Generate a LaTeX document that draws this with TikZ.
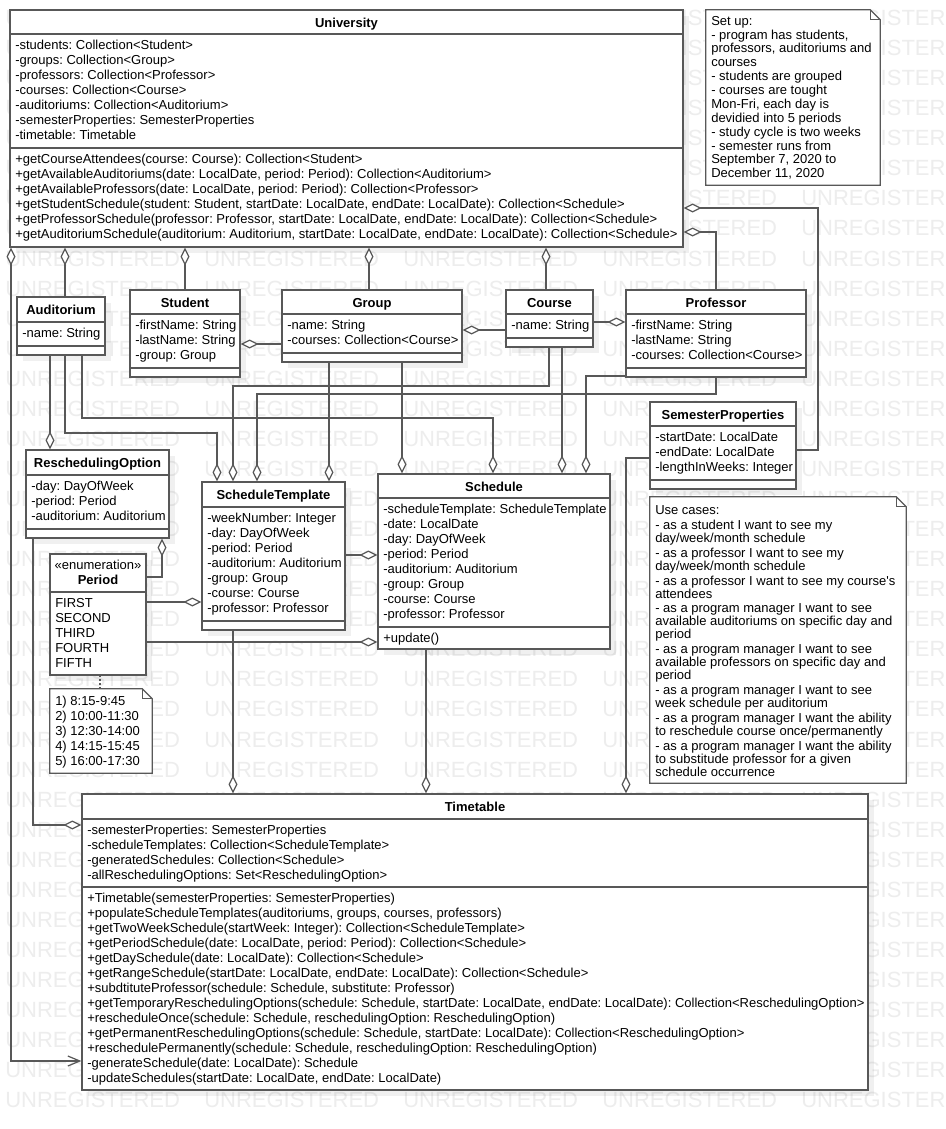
\documentclass[tikz,border=0pt]{standalone}
\usepackage{fontspec}
\setmainfont{Liberation Sans}
\usetikzlibrary{arrows.meta,fit,shadows}
\frenchspacing
\definecolor{linec}{RGB}{88,88,88}
\definecolor{wmc}{RGB}{237,237,237}
\newcommand{\fsz}{\fontsize{9.75pt}{11.25pt}\selectfont}
\tikzset{
  classbox/.style={draw=linec, line width=0.9pt, fill=white, inner sep=0pt,
    drop shadow={shadow xshift=4.5pt, shadow yshift=-4.5pt, fill=black, opacity=0.06}},
  sepline/.style={draw=linec, line width=0.9pt},
  txt/.style={anchor=base west, inner sep=0pt, font=\fsz, text=black},
  ttl/.style={anchor=base, inner sep=0pt, font=\fsz\bfseries, text=black},
  conn/.style={draw=linec, line width=0.9pt},
  agg/.style={conn, {Diamond[fill=white,length=13.5pt,width=6.75pt]}-},
  aggnav/.style={conn, {Diamond[fill=white,length=13.5pt,width=6.75pt]}-{Straight Barb[length=9pt,width=7.5pt]}},
  notebg/.style={draw=linec, line width=0.9pt, fill=white},
  wm/.style={anchor=west, inner sep=0pt, font=\fontsize{16.5pt}{18pt}\selectfont, text=wmc},
}
\newcommand{\umlclass}[6]{%
  \node[classbox, fit={(#2,#3) (#4,#5)}] (#1) {};
  \pgfmathsetmacro\tmpcx{(#2+#4)/2}%
  \pgfmathsetmacro\tmpty{#3+17.5}%
  \node[ttl] (#1-title) at (\tmpcx,\tmpty) {#6};
}
\newcommand{\csep}[3]{\draw[sepline] (#1,#3) -- (#2,#3);}
\newcommand{\crows}[4]{%
  \foreach \t [count=\i] in {#4} {%
    \pgfmathsetmacro\yy{#3+15*\i}%
    \node[txt] (#1-\i) at (#2,\yy) {\t};
  }%
}
\newcommand{\notebox}[5]{%
  \node[fit={(#2,#3) (#4,#5)}, inner sep=0pt] (#1) {};
  \draw[notebg] (#1.north west) -- ([xshift=-7.5pt]#1.north east) -- ([yshift=-7.5pt]#1.north east) -- (#1.south east) -- (#1.south west) -- cycle;
  \draw[sepline] ([xshift=-7.5pt]#1.north east) -- ([xshift=-7.5pt,yshift=-7.5pt]#1.north east) -- ([yshift=-7.5pt]#1.north east);
}
\newcommand{\ntext}[3]{%
  \foreach \yy/\t [count=\i] in {#3} {\node[txt] (#1-\i) at (#2,\yy) {\t};}%
}
\begin{document}
\begin{tikzpicture}[x=0.75pt,y=-0.75pt]
\useasboundingbox (0,0) rectangle (946,1129);
\fill[white] (0,0) rectangle (946,1129);
% watermark
\foreach \r in {0,...,36} {\foreach \c in {0,...,4} {%
  \pgfmathsetmacro\wy{18+30.06*\r}%
  \pgfmathsetmacro\wx{5+199*\c}%
  \node[wm] (wm-\r-\c) at (\wx,\wy) {UNREGISTERED};
}}

% ---------- University
\umlclass{University}{10}{10}{683}{247}{University}
\csep{10}{683}{34}\csep{10}{683}{148}
\crows{University-a}{15}{34}{{-students: Collection<Student>},{-groups: Collection<Group>},{-professors: Collection<Professor>},{-courses: Collection<Course>},{-auditoriums: Collection<Auditorium>},{-semesterProperties: SemesterProperties},{-timetable: Timetable}}
\crows{University-o}{15}{148}{{+getCourseAttendees(course: Course): Collection<Student>},{+getAvailableAuditoriums(date: LocalDate, period: Period): Collection<Auditorium>},{+getAvailableProfessors(date: LocalDate, period: Period): Collection<Professor>},{+getStudentSchedule(student: Student, startDate: LocalDate, endDate: LocalDate): Collection<Schedule>},{+getProfessorSchedule(professor: Professor, startDate: LocalDate, endDate: LocalDate): Collection<Schedule>},{+getAuditoriumSchedule(auditorium: Auditorium, startDate: LocalDate, endDate: LocalDate): Collection<Schedule>}}

% ---------- Auditorium
\umlclass{Auditorium}{17}{297}{105}{355}{Auditorium}
\csep{17}{105}{322}\csep{17}{105}{346}
\crows{Auditorium-a}{22}{322}{{-name: String}}

% ---------- Student
\umlclass{Student}{130}{290}{240}{377}{Student}
\csep{130}{240}{314}\csep{130}{240}{368}
\crows{Student-a}{135}{314}{{-firstName: String},{-lastName: String},{-group: Group}}

% ---------- Group
\umlclass{Group}{282}{290}{462}{362}{Group}
\csep{282}{462}{314}\csep{282}{462}{353}
\crows{Group-a}{287}{314}{{-name: String},{-courses: Collection<Course>}}

% ---------- Course
\umlclass{Course}{506}{290}{593}{347}{Course}
\csep{506}{593}{314}\csep{506}{593}{338}
\crows{Course-a}{511}{314}{{-name: String}}

% ---------- Professor
\umlclass{Professor}{626}{290}{806}{377}{Professor}
\csep{626}{806}{314}\csep{626}{806}{368}
\crows{Professor-a}{631}{314}{{-firstName: String},{-lastName: String},{-courses: Collection<Course>}}

% ---------- SemesterProperties
\umlclass{SemesterProperties}{650}{402}{796}{489}{SemesterProperties}
\csep{650}{796}{426}\csep{650}{796}{480}
\crows{SemesterProperties-a}{655}{426}{{-startDate: LocalDate},{-endDate: LocalDate},{-lengthInWeeks: Integer}}

% ---------- ReschedulingOption
\umlclass{ReschedulingOption}{26}{450}{169}{538}{ReschedulingOption}
\csep{26}{169}{475}\csep{26}{169}{529}
\crows{ReschedulingOption-a}{31}{475}{{-day: DayOfWeek},{-period: Period},{-auditorium: Auditorium}}

% ---------- ScheduleTemplate
\umlclass{ScheduleTemplate}{202}{482}{345}{630}{ScheduleTemplate}
\csep{202}{345}{507}\csep{202}{345}{621}
\crows{ScheduleTemplate-a}{207}{507}{{-weekNumber: Integer},{-day: DayOfWeek},{-period: Period},{-auditorium: Auditorium},{-group: Group},{-course: Course},{-professor: Professor}}

% ---------- Schedule
\umlclass{Schedule}{378}{474}{610}{649}{Schedule}
\csep{378}{610}{498}\csep{378}{610}{627}
\crows{Schedule-a}{383}{498}{{-scheduleTemplate: ScheduleTemplate},{-date: LocalDate},{-day: DayOfWeek},{-period: Period},{-auditorium: Auditorium},{-group: Group},{-course: Course},{-professor: Professor}}
\crows{Schedule-o}{383}{627}{{+update()}}

% ---------- Period (enumeration)
\node[classbox, fit={(50,554) (146,675)}] (Period) {};
\node[anchor=base, inner sep=0pt, font=\fsz] (Period-stereo) at (98,569.5) {«enumeration»};
\node[ttl] (Period-title) at (98,584) {Period};
\csep{50}{146}{592}
\crows{Period-l}{55}{592}{{FIRST},{SECOND},{THIRD},{FOURTH},{FIFTH}}

% ---------- Timetable
\umlclass{Timetable}{82}{794}{868}{1090}{Timetable}
\csep{82}{868}{819}\csep{82}{868}{887}
\crows{Timetable-a}{87}{819}{{-semesterProperties: SemesterProperties},{-scheduleTemplates: Collection<ScheduleTemplate>},{-generatedSchedules: Collection<Schedule>},{-allReschedulingOptions: Set<ReschedulingOption>}}
\crows{Timetable-o}{87}{887}{{+Timetable(semesterProperties: SemesterProperties)},{+populateScheduleTemplates(auditoriums, groups, courses, professors)},{+getTwoWeekSchedule(startWeek: Integer): Collection<ScheduleTemplate>},{+getPeriodSchedule(date: LocalDate, period: Period): Collection<Schedule>},{+getDaySchedule(date: LocalDate): Collection<Schedule>},{+getRangeSchedule(startDate: LocalDate, endDate: LocalDate): Collection<Schedule>},{+subdtituteProfessor(schedule: Schedule, substitute: Professor)},{+getTemporaryReschedulingOptions(schedule: Schedule, startDate: LocalDate, endDate: LocalDate): Collection<ReschedulingOption>},{+rescheduleOnce(schedule: Schedule, reschedulingOption: ReschedulingOption)},{+getPermanentReschedulingOptions(schedule: Schedule, startDate: LocalDate): Collection<ReschedulingOption>},{+reschedulePermanently(schedule: Schedule, reschedulingOption: ReschedulingOption)},{-generateSchedule(date: LocalDate): Schedule},{-updateSchedules(startDate: LocalDate, endDate: LocalDate)}}

% ---------- Notes
\notebox{setup}{706}{10}{880}{185}
\ntext{setup-t}{711}{25.2/{Set up:},39.1/{- program has students,},52.9/{professors, auditoriums and},66.8/{courses},80.7/{- students are grouped},94.6/{- courses are tought},108.4/{Mon-Fri, each day is},122.3/{devidied into 5 periods},136.2/{- study cycle is two weeks},150.0/{- semester runs from},163.9/{September 7, 2020 to},177.8/{December 11, 2020}}

\notebox{usecases}{650}{497}{906}{783}
\ntext{usecases-t}{655}{514.5/{Use cases:},529.4/{- as a student I want to see my},542.4/{day/week/month schedule},557.2/{- as a professor I want to see my},570.2/{day/week/month schedule},585.1/{- as a professor I want to see my course\textquotesingle s},598.1/{attendees},612.9/{- as a program manager I want to see},625.9/{available auditoriums on specific day and},638.9/{period},653.8/{- as a program manager I want to see},666.8/{available professors on specific day and},679.8/{period},694.6/{- as a program manager I want to see},707.6/{week schedule per auditorium},722.5/{- as a program manager I want the ability},735.5/{to reschedule course once/permanently},750.3/{- as a program manager I want the ability},763.3/{to substitude professor for a given},776.3/{schedule occurrence}}

\notebox{pnote}{50}{689}{152}{773}
\ntext{pnote-t}{55}{705.6/{1) 8:15-9:45},720.6/{2) 10:00-11:30},735.6/{3) 12:30-14:00},750.6/{4) 14:15-15:45},765.6/{5) 16:00-17:30}}

% ---------- Connectors
\draw[aggnav] (University.south -| 11,0) |- (Timetable.west |- 0,1061);
\draw[agg] (University.south -| 65,0) -- (Auditorium.north -| 65,0);
\draw[agg] (University.south -| 185,0) -- (Student.north -| 185,0);
\draw[agg] (University.south -| 369,0) -- (Group.north -| 369,0);
\draw[agg] (University.south -| 546,0) -- (Course.north -| 546,0);
\draw[agg] (University.east |- 0,232) -| (Professor.north -| 716,0);
\draw[agg] (University.east |- 0,208) -| (818,450) -- (SemesterProperties.east |- 0,450);
\draw[agg] (Student.east |- 0,344) -- (Group.west |- 0,344);
\draw[agg] (Group.east |- 0,330) -- (Course.west |- 0,330);
\draw[agg] (Professor.west |- 0,322) -- (Course.east |- 0,322);
\draw[agg] (ReschedulingOption.north -| 50,0) -- (Auditorium.south -| 50,0);
\draw[agg] (ScheduleTemplate.north -| 217,0) |- (65,433) -- (Auditorium.south -| 65,0);
\draw[agg] (Schedule.north -| 493,0) |- (82,418) -- (Auditorium.south -| 82,0);
\draw[agg] (ScheduleTemplate.north -| 233,0) |- (549,386) -- (Course.south -| 549,0);
\draw[agg] (ScheduleTemplate.north -| 257,0) |- (716,394) -- (Professor.south -| 716,0);
\draw[agg] (ScheduleTemplate.north -| 329,0) -- (Group.south -| 329,0);
\draw[agg] (Schedule.north -| 402,0) -- (Group.south -| 402,0);
\draw[agg] (Schedule.north -| 562,0) -- (Course.south -| 562,0);
\draw[agg] (Schedule.north -| 586,0) |- (Professor.west |- 0,376);
\draw[agg] (Timetable.north -| 233,0) -- (ScheduleTemplate.south -| 233,0);
\draw[agg] (Timetable.north -| 426,0) -- (Schedule.south -| 426,0);
\draw[agg] (Timetable.north -| 626,0) |- (SemesterProperties.west |- 0,458);
\draw[agg] (Timetable.west |- 0,825) -| (ReschedulingOption.south -| 33,0);
\draw[agg] (ReschedulingOption.south -| 162,0) |- (Period.east |- 0,577);
\draw[agg] (ScheduleTemplate.west |- 0,602) -- (Period.east |- 0,602);
\draw[agg] (Schedule.west |- 0,642) -- (Period.east |- 0,642);
\draw[agg] (Schedule.west |- 0,555) -- (ScheduleTemplate.east |- 0,555);
\draw[conn, dotted, line width=1.2pt] (Period.south -| 100,0) -- (pnote.north -| 100,0);
\end{tikzpicture}
\end{document}
